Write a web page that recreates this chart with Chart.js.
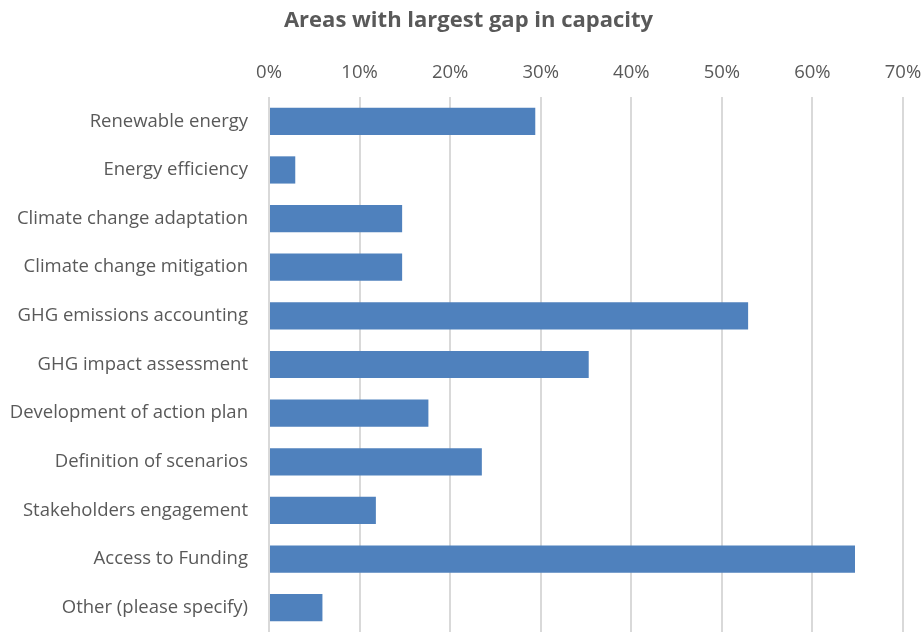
<!DOCTYPE html>
<html>
<head>
<meta charset="utf-8">
<script src="https://cdn.jsdelivr.net/npm/chart.js@4"></script>
<style>
  html, body { margin: 0; padding: 0; background: #fff; }
  #wrap { width: 924px; height: 632px; }
</style>
</head>
<body>
<div id="wrap"><canvas id="chartGap" width="924" height="632"></canvas></div>
<script>
const areas = [
    'Renewable energy',
    'Energy efficiency',
    'Climate change adaptation',
    'Climate change mitigation',
    'GHG emissions accounting',
    'GHG impact assessment',
    'Development of action plan',
    'Definition of scenarios',
    'Stakeholders engagement',
    'Access to Funding',
    'Other (please specify)'
];
const gapPct = [29.4, 2.9, 14.7, 14.7, 52.9, 35.3, 17.6, 23.5, 11.8, 64.7, 5.9];
const xTicks = [0, 10, 20, 30, 40, 50, 60, 70];

const fontName = '"Open Sans", Lato, sans-serif';
const grey = '#595959';

// title is centred over the whole picture, not over the plot
const shiftTitle = {
    id: 'shiftTitle',
    afterLayout(chart) {
        if (chart.titleBlock) chart.titleBlock.left += 34;
    }
};

const ctx = document.getElementById('chartGap').getContext('2d');
const myChart = new Chart(ctx, {
    type: 'bar',
    data: {
        labels: areas,
        datasets: [{
            label: 'Areas with largest gap in capacity',
            data: gapPct,
            backgroundColor: '#4F81BD',
            borderWidth: 0,
            barPercentage: 0.56,
            categoryPercentage: 1
        }]
    },
    options: {
        indexAxis: 'y',
        responsive: false,
        animation: false,
        layout: { padding: { left: 0, right: 21, top: 0, bottom: 0 } },
        plugins: {
            legend: { display: false },
            tooltip: { enabled: false },
            title: {
                display: true,
                text: 'Areas with largest gap in capacity',
                color: grey,
                font: { family: fontName, size: 22, weight: 'bold' },
                padding: { top: 8, bottom: 8 }
            }
        },
        scales: {
            x: {
                position: 'top',
                min: 0,
                max: 70,
                afterBuildTicks: scale => {
                    scale.ticks = xTicks.map(v => ({ value: v }));
                },
                afterFit: scale => {
                    scale.height = 97 - 42.4;
                    scale.paddingLeft = 0;
                    scale.paddingRight = 0;
                },
                ticks: {
                    color: grey,
                    font: { family: fontName, size: 18.5 },
                    padding: 13,
                    callback: v => v + '%'
                },
                grid: { color: '#d9d9d9', lineWidth: 2, drawTicks: false },
                border: { display: false }
            },
            y: {
                afterFit: scale => {
                    scale.width = 269;
                    scale.paddingTop = 0;
                    scale.paddingBottom = 0;
                },
                ticks: {
                    color: grey,
                    font: { family: fontName, size: 18.5 },
                    padding: 21
                },
                grid: { display: false, drawTicks: false },
                border: { display: false }
            }
        }
    },
    plugins: [shiftTitle]
});
</script>
</body>
</html>
